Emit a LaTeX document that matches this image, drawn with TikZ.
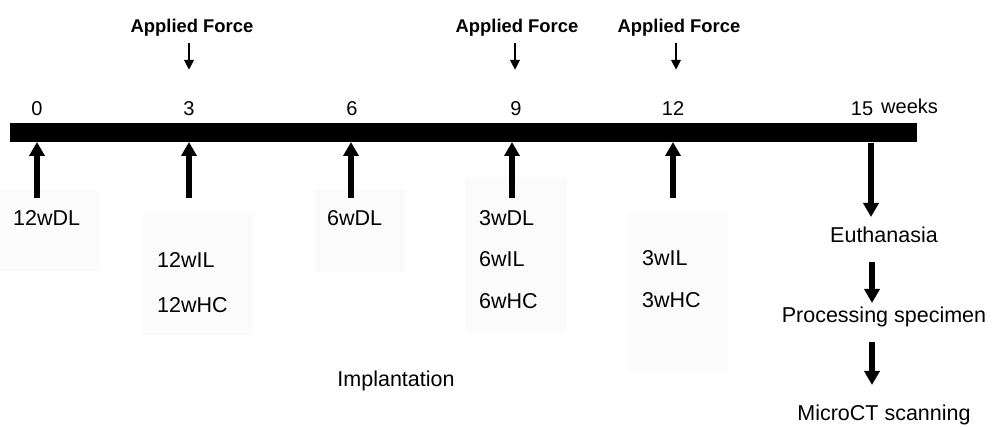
\documentclass[tikz,border=0pt]{standalone}
\usepackage{fontspec}
\setmainfont{Liberation Sans}
\usetikzlibrary{arrows.meta}
\begin{document}
\begin{tikzpicture}[x=1pt,y=-1pt,
  lbl/.style={inner sep=0pt, font=\fontsize{21.5}{24}\selectfont},
  num/.style={inner sep=0pt, font=\fontsize{20}{24}\selectfont},
  force/.style={inner sep=0pt, font=\bfseries\fontsize{18.4}{22}\selectfont},
  bigarrow/.style={line width=6pt, -{Triangle[width=15pt,length=14pt]}},
  smallarrow/.style={line width=2.5pt, -{Triangle[width=9pt,length=10pt]}},
  shade/.style={fill=black!1.5, draw=none}]
\useasboundingbox (0,0) rectangle (994,427);
\fill[white] (0,0) rectangle (994,427);
% faint background panels
\fill[shade] (0,190) rectangle (99,271);
\fill[shade] (143,213) rectangle (253,335);
\fill[shade] (315,190) rectangle (405,272);
\fill[shade] (465,178) rectangle (567,332);
\fill[shade] (628,213) rectangle (728,372);
% time bar
\node[fill=black, minimum width=907pt, minimum height=19pt, inner sep=0pt, anchor=north west] (bar) at (9.5,123) {};
% tick coordinates
\coordinate (t0) at (37,142);
\coordinate (t3) at (189,142);
\coordinate (t6) at (351,142);
\coordinate (t9) at (512,142);
\coordinate (t12) at (673,142);
\coordinate (t15) at (871,143);
\coordinate (b0) at (37,198);
\coordinate (b3) at (189,198);
\coordinate (b6) at (351,198);
\coordinate (b9) at (512,198);
\coordinate (b12) at (673,198);
% numbers
\node[num, anchor=base] (n0) at (37,116) {0};
\node[num, anchor=base] (n3) at (189,116) {3};
\node[num, anchor=base] (n6) at (352,116) {6};
\node[num, anchor=base] (n9) at (516,116) {9};
\node[num, anchor=base] (n12) at (673,116) {12};
\node[num, anchor=base] (n15) at (862,116) {15};
\node[num, anchor=base west] (wk) at (881,114) {weeks};
% applied force
\node[force, anchor=base] (f3) at (192,33) {Applied Force};
\node[force, anchor=base] (f9) at (517,33) {Applied Force};
\node[force, anchor=base] (f12) at (679,33) {Applied Force};
\coordinate (fa3) at (189,43);  \coordinate (fb3) at (189,70);
\coordinate (fa9) at (515,43);  \coordinate (fb9) at (515,70);
\coordinate (fa12) at (676,43); \coordinate (fb12) at (676,70);
\draw[smallarrow] (fa3) -- (fb3);
\draw[smallarrow] (fa9) -- (fb9);
\draw[smallarrow] (fa12) -- (fb12);
% up arrows
\draw[bigarrow] (b0) -- (t0);
\draw[bigarrow] (b3) -- (t3);
\draw[bigarrow] (b6) -- (t6);
\draw[bigarrow] (b9) -- (t9);
\draw[bigarrow] (b12) -- (t12);
% group labels
\node[lbl, anchor=base west] (g1) at (13,226) {12wDL};
\node[lbl, anchor=base west] (g2) at (157,268) {12wIL};
\node[lbl, anchor=base west] (g3) at (157,313) {12wHC};
\node[lbl, anchor=base west] (g4) at (327,226) {6wDL};
\node[lbl, anchor=base west] (g5) at (479,226) {3wDL};
\node[lbl, anchor=base west] (g6) at (479,267) {6wIL};
\node[lbl, anchor=base west] (g7) at (479,309) {6wHC};
\node[lbl, anchor=base west] (g8) at (642,266) {3wIL};
\node[lbl, anchor=base west] (g9) at (642,308) {3wHC};
\node[lbl, anchor=base] (impl) at (396,387) {Implantation};
% right column
\node[lbl, anchor=base] (euth) at (884,243) {Euthanasia};
\node[lbl, anchor=base] (proc) at (884,323) {Processing specimen};
\node[lbl, anchor=base] (micro) at (884,421) {MicroCT scanning};
\coordinate (e1) at (871,217);
\coordinate (p0) at (872,262); \coordinate (p1) at (872,303);
\coordinate (m0) at (872,342); \coordinate (m1) at (872,385);
\draw[bigarrow] (t15) -- (e1);
\draw[bigarrow] (p0) -- (p1);
\draw[bigarrow] (m0) -- (m1);
\end{tikzpicture}
\end{document}
